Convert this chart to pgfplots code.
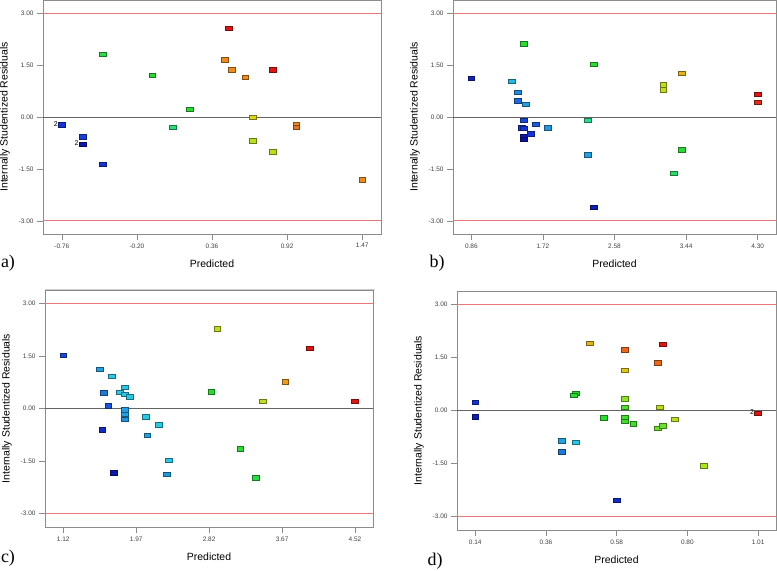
\documentclass[border=0pt]{standalone}
\usepackage{pgfplots}
\pgfplotsset{compat=1.18}
\usepackage{pgfplotstable}
\usepackage{fontspec}
\setmainfont{Liberation Serif}
\newfontfamily\arial{Liberation Sans}

\pgfplotstableread{
x y c
-0.760 -0.23 1
-0.606 -0.57 1.2
-0.606 -0.79 0.3
-0.455 -1.36 1
-0.455 1.81 4.8
-0.088 1.21 5
0.061 -0.29 4.3
0.188 0.23 5
0.448 1.65 8
0.480 2.56 9
0.500 1.37 8
0.602 1.14 8
0.657 0.00 7
0.657 -0.69 6.2
0.808 1.37 9
0.808 -1.01 6.3
0.981 -0.22 8
0.981 -0.30 8.2
1.470 -1.81 8
}\dataA

\pgfplotstableread{
x y c
0.860 1.125 0.6
1.347 1.03 2.8
1.419 0.72 2.2
1.415 0.47 1.8
1.515 0.375 2.5
1.487 2.11 5
1.487 -0.10 1.3
1.470 -0.31 1
1.490 -0.32 1
1.487 -0.56 0.4
1.487 -0.65 0.2
1.576 -0.49 1
1.636 -0.21 1.6
1.775 -0.31 2.4
2.254 -0.096 4
2.254 -1.096 2.5
2.330 1.53 5
2.330 -2.60 0.5
3.165 0.93 6.5
3.165 0.79 6.5
3.385 1.27 7.5
3.385 -0.95 5
3.293 -1.63 4.5
4.300 0.66 9
4.300 0.43 8.8
}\dataB

\pgfplotstableread{
x y c
1.120 1.52 1.3
1.547 1.12 2.5
1.590 0.45 2
1.575 -0.605 0.8
1.645 0.076 1.5
1.683 0.92 3
1.707 -1.83 0.3
1.780 0.46 3
1.839 0.61 3
1.839 0.40 3
1.893 0.34 3
1.835 -0.04 2.5
1.835 -0.16 2.5
1.835 -0.31 2.3
2.080 -0.24 3
2.099 -0.76 2.5
2.235 -0.46 3
2.352 -1.47 3
2.324 -1.87 2.4
2.845 0.48 5
2.915 2.28 6.5
3.183 -1.145 5
3.443 0.21 6.5
3.366 -1.98 4.8
3.707 0.76 7.8
3.990 1.72 9
4.515 0.21 9
}\dataC

\pgfplotstableread{
x y c
0.140 0.24 1
0.140 -0.18 0.5
0.407 -0.85 2.5
0.407 -1.17 2
0.448 -0.90 3
0.448 0.48 5
0.444 0.435 5
0.491 1.91 7.5
0.535 -0.20 5
0.575 -2.545 0.8
0.600 1.72 8.3
0.600 1.135 7.2
0.600 0.33 5.8
0.600 0.10 5.3
0.600 -0.20 5.2
0.600 -0.31 5.2
0.626 -0.38 5.2
0.701 1.35 8.3
0.716 1.88 9
0.708 0.095 6.3
0.701 -0.51 5.5
0.716 -0.435 5.5
0.754 -0.255 6.3
0.844 -1.56 6
1.010 -0.085 9
}\dataD

\definecolor{framegray}{RGB}{140,140,140}
\definecolor{reflred}{RGB}{232,120,120}
\definecolor{zerogray}{RGB}{100,100,100}

\pgfplotsset{
  colormap={dx}{rgb255=(10,10,150) rgb255=(20,50,220) rgb255=(30,120,220) rgb255=(40,200,230) rgb255=(40,220,150) rgb255=(40,220,50) rgb255=(170,230,30) rgb255=(220,215,20) rgb255=(240,140,30) rgb255=(225,20,20)},
  resid/.style={
    scale only axis,
    anchor=south west,
    ymin=-3.38, ymax=3.38,
    ytick={-3,-1.5,0,1.5,3},
    yticklabels={-3.00,-1.50,0.00,1.50,3.00},
    axis line style={framegray},
    tick style={framegray, line width=0.6pt},
    tick align=outside,
    tick pos=left,
    major tick length=6bp,
    ticklabel style={font=\arial\fontsize{6.5}{7}\selectfont, text=black!75},
    xlabel={Predicted},
    ylabel={Internally Studentized Residuals},
    label style={font=\arial\fontsize{10.5}{12}\selectfont},
    xlabel style={yshift=-5bp},
    ylabel style={yshift=2bp},
    point meta min=0, point meta max=9,
    colormap name=dx,
  },
  pts/.style={
    scatter, only marks, mark=square*, mark size=3.4bp,
    point meta=explicit,
    mark options={yscale=0.65, line width=0.5pt},
    scatter/use mapped color={draw=mapped color!55!black, fill=mapped color},
  },
  rline/.style={color=reflred, line width=0.8pt, forget plot, mark=none},
  zline/.style={color=zerogray, line width=0.7pt, forget plot, mark=none},
}

\begin{document}
\begin{tikzpicture}
\path[use as bounding box] (0,0) rectangle (777bp,571bp);

% a)
\begin{axis}[resid, at={(43bp,337bp)}, width=338bp, height=234bp,
  xmin=-0.90, xmax=1.61,
  xtick={-0.76,-0.2025,0.355,0.9125,1.47},
  xticklabels={-0.76,-0.20,0.36,0.92,1.47}]
\addplot[zline] coordinates {(-0.90,0) (1.61,0)};
\addplot[rline] coordinates {(-0.90,-3) (1.61,-3)};
\addplot[rline] coordinates {(-0.90,3) (1.61,3)};
\addplot[pts] table[x=x,y=y,meta=c] {\dataA};
\node[anchor=east, font=\arial\fontsize{7}{8}\selectfont, inner sep=0pt] at (axis cs:-0.760,-0.23) [xshift=-4bp, yshift=1bp] {2};
\node[anchor=east, font=\arial\fontsize{7}{8}\selectfont, inner sep=0pt] at (axis cs:-0.606,-0.79) [xshift=-4bp, yshift=1bp] {2};
\end{axis}

% b)
\begin{axis}[resid, at={(453bp,337bp)}, width=323bp, height=234bp,
  xmin=0.64, xmax=4.52,
  xtick={0.86,1.72,2.58,3.44,4.30},
  xticklabels={0.86,1.72,2.58,3.44,4.30}]
\addplot[zline] coordinates {(0.64,0) (4.52,0)};
\addplot[rline] coordinates {(0.64,-3) (4.52,-3)};
\addplot[rline] coordinates {(0.64,3) (4.52,3)};
\addplot[pts] table[x=x,y=y,meta=c] {\dataB};
\end{axis}

% c)
\begin{axis}[resid, at={(45bp,44bp)}, width=328bp, height=237bp,
  xmin=0.907, xmax=4.73,
  xtick={1.12,1.97,2.82,3.67,4.52},
  xticklabels={1.12,1.97,2.82,3.67,4.52}]
\addplot[zline] coordinates {(0.907,0) (4.73,0)};
\addplot[rline] coordinates {(0.907,-3) (4.73,-3)};
\addplot[rline] coordinates {(0.907,3) (4.73,3)};
\addplot[pts] table[x=x,y=y,meta=c] {\dataC};
\end{axis}

% d)
\begin{axis}[resid, at={(457bp,41bp)}, width=319bp, height=239bp,
  xmin=0.084, xmax=1.065,
  xtick={0.14,0.3575,0.575,0.7925,1.01},
  xticklabels={0.14,0.36,0.58,0.80,1.01}]
\addplot[zline] coordinates {(0.084,0) (1.065,0)};
\addplot[rline] coordinates {(0.084,-3) (1.065,-3)};
\addplot[rline] coordinates {(0.084,3) (1.065,3)};
\addplot[pts] table[x=x,y=y,meta=c] {\dataD};
\node[anchor=east, font=\arial\fontsize{7}{8}\selectfont, inner sep=0pt] at (axis cs:1.010,-0.085) [xshift=-4bp, yshift=1bp] {2};
\end{axis}

\draw[black!20, line width=0.5pt] (45bp,282bp) -- (375bp,282bp);

\node[font=\fontsize{18}{20}\selectfont] at (8bp,308bp) {a)};
\node[font=\fontsize{18}{20}\selectfont] at (437bp,308bp) {b)};
\node[font=\fontsize{18}{20}\selectfont] at (8bp,13bp) {c)};
\node[font=\fontsize{18}{20}\selectfont] at (435bp,10bp) {d)};
\end{tikzpicture}
\end{document}
